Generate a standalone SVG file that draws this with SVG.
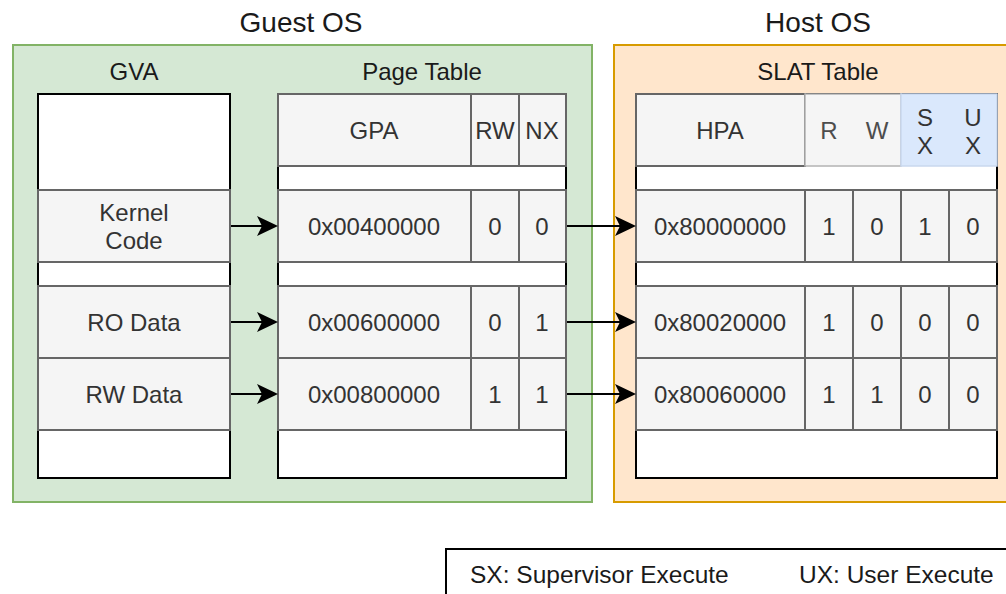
<svg xmlns="http://www.w3.org/2000/svg" width="1006" height="594" viewBox="0 0 1006 594">
  <style>
    text { font-family: "Liberation Sans", Arial, Helvetica, sans-serif; }
    .title { font-size: 28px; fill: #1a1a1a; text-anchor: middle; }
    .label { font-size: 24px; fill: #1a1a1a; text-anchor: middle; }
    .cell-text { font-size: 24px; fill: #333333; text-anchor: middle; dominant-baseline: central; }
    .legend-text { font-size: 24.5px; fill: #1a1a1a; }
    .frame { fill: #ffffff; stroke: #000000; stroke-width: 2; }
    .cell { fill: #f5f5f5; stroke: #666666; stroke-width: 2; }
    .edge { stroke: #000000; stroke-width: 2; fill: none; marker-end: url(#arrow); }
  </style>
  <defs>
    <marker id="arrow" markerUnits="userSpaceOnUse" markerWidth="24" markerHeight="22" refX="15" refY="10" orient="auto">
      <path d="M0,0 L21,10 L0,20 L5,10 Z" fill="#000000"/>
    </marker>
  </defs>

  <rect width="1006" height="594" fill="#ffffff"/>

  <!-- Guest OS container -->
  <g id="guest-os">
    <rect x="13" y="45" width="579" height="457" fill="#d5e8d4" stroke="#82b366" stroke-width="2"/>
    <text class="title" x="301" y="32">Guest OS</text>
  </g>

  <!-- Host OS container -->
  <g id="host-os">
    <rect x="614" y="45" width="410" height="457" fill="#ffe6cc" stroke="#d79b00" stroke-width="2"/>
    <text class="title" x="818" y="32">Host OS</text>
  </g>

  <!-- Guest virtual address space -->
  <g id="gva">
    <text class="label" x="134" y="80">GVA</text>
    <rect class="frame" x="38" y="94" width="192" height="384"/>
    <rect class="cell" x="38" y="190" width="192" height="72"/>
    <text class="cell-text" x="134" y="212">Kernel</text>
    <text class="cell-text" x="134" y="240">Code</text>
    <rect class="cell" x="38" y="286" width="192" height="72"/>
    <text class="cell-text" x="134" y="322">RO Data</text>
    <rect class="cell" x="38" y="358" width="192" height="72"/>
    <text class="cell-text" x="134" y="394">RW Data</text>
  </g>

  <!-- Guest page table -->
  <g id="page-table">
    <text class="label" x="422" y="80">Page Table</text>
    <rect class="frame" x="278" y="94" width="288" height="384"/>
    <rect class="cell" x="278" y="94" width="193" height="72"/>
    <rect class="cell" x="471" y="94" width="48" height="72"/>
    <rect class="cell" x="519" y="94" width="47" height="72"/>
    <text class="cell-text" x="374" y="130">GPA</text>
    <text class="cell-text" x="495" y="130">RW</text>
    <text class="cell-text" x="542" y="130">NX</text>

    <rect class="cell" x="278" y="190" width="193" height="72"/>
    <rect class="cell" x="471" y="190" width="48" height="72"/>
    <rect class="cell" x="519" y="190" width="47" height="72"/>
    <text class="cell-text" x="374" y="226">0x00400000</text>
    <text class="cell-text" x="495" y="226">0</text>
    <text class="cell-text" x="542" y="226">0</text>

    <rect class="cell" x="278" y="286" width="193" height="72"/>
    <rect class="cell" x="471" y="286" width="48" height="72"/>
    <rect class="cell" x="519" y="286" width="47" height="72"/>
    <text class="cell-text" x="374" y="322">0x00600000</text>
    <text class="cell-text" x="495" y="322">0</text>
    <text class="cell-text" x="542" y="322">1</text>

    <rect class="cell" x="278" y="358" width="193" height="72"/>
    <rect class="cell" x="471" y="358" width="48" height="72"/>
    <rect class="cell" x="519" y="358" width="47" height="72"/>
    <text class="cell-text" x="374" y="394">0x00800000</text>
    <text class="cell-text" x="495" y="394">1</text>
    <text class="cell-text" x="542" y="394">1</text>
  </g>

  <!-- Second level address translation table -->
  <g id="slat-table">
    <text class="label" x="818" y="80">SLAT Table</text>
    <rect class="frame" x="636" y="94" width="361" height="384"/>
    <rect class="cell" x="636" y="94" width="169" height="72"/>
    <rect x="805" y="94" width="96" height="72" fill="#f5f5f5" stroke="#b3b3b3" stroke-width="1.5"/>
    <rect x="901" y="94" width="96" height="72" fill="#dae8fc" stroke="#c9d8ee" stroke-width="1.5"/>
    <text class="cell-text" x="720" y="130">HPA</text>
    <text class="cell-text" x="829" y="130" style="fill:#4d4d4d">R</text>
    <text class="cell-text" x="877" y="130" style="fill:#4d4d4d">W</text>
    <text class="cell-text" x="925" y="117">S</text>
    <text class="cell-text" x="925" y="145">X</text>
    <text class="cell-text" x="973" y="117">U</text>
    <text class="cell-text" x="973" y="145">X</text>

    <rect class="cell" x="636" y="190" width="169" height="72"/>
    <rect class="cell" x="805" y="190" width="48" height="72"/>
    <rect class="cell" x="853" y="190" width="48" height="72"/>
    <rect class="cell" x="901" y="190" width="48" height="72"/>
    <rect class="cell" x="949" y="190" width="48" height="72"/>
    <text class="cell-text" x="720" y="226">0x80000000</text>
    <text class="cell-text" x="829" y="226">1</text>
    <text class="cell-text" x="877" y="226">0</text>
    <text class="cell-text" x="925" y="226">1</text>
    <text class="cell-text" x="973" y="226">0</text>

    <rect class="cell" x="636" y="286" width="169" height="72"/>
    <rect class="cell" x="805" y="286" width="48" height="72"/>
    <rect class="cell" x="853" y="286" width="48" height="72"/>
    <rect class="cell" x="901" y="286" width="48" height="72"/>
    <rect class="cell" x="949" y="286" width="48" height="72"/>
    <text class="cell-text" x="720" y="322">0x80020000</text>
    <text class="cell-text" x="829" y="322">1</text>
    <text class="cell-text" x="877" y="322">0</text>
    <text class="cell-text" x="925" y="322">0</text>
    <text class="cell-text" x="973" y="322">0</text>

    <rect class="cell" x="636" y="358" width="169" height="72"/>
    <rect class="cell" x="805" y="358" width="48" height="72"/>
    <rect class="cell" x="853" y="358" width="48" height="72"/>
    <rect class="cell" x="901" y="358" width="48" height="72"/>
    <rect class="cell" x="949" y="358" width="48" height="72"/>
    <text class="cell-text" x="720" y="394">0x80060000</text>
    <text class="cell-text" x="829" y="394">1</text>
    <text class="cell-text" x="877" y="394">1</text>
    <text class="cell-text" x="925" y="394">0</text>
    <text class="cell-text" x="973" y="394">0</text>
  </g>

  <!-- Mappings GVA -> GPA -> HPA -->
  <g id="connectors">
    <line class="edge" x1="231" y1="226" x2="272" y2="226"/>
    <line class="edge" x1="231" y1="322" x2="272" y2="322"/>
    <line class="edge" x1="231" y1="394" x2="272" y2="394"/>
    <line class="edge" x1="567" y1="226" x2="630" y2="226"/>
    <line class="edge" x1="567" y1="322" x2="630" y2="322"/>
    <line class="edge" x1="567" y1="394" x2="630" y2="394"/>
  </g>

  <!-- Legend -->
  <g id="legend">
    <rect x="446" y="549" width="600" height="80" fill="#ffffff" stroke="#000000" stroke-width="2"/>
    <text class="legend-text" x="470" y="583">SX: Supervisor Execute</text>
    <text class="legend-text" x="799" y="583">UX: User Execute</text>
  </g>
</svg>
